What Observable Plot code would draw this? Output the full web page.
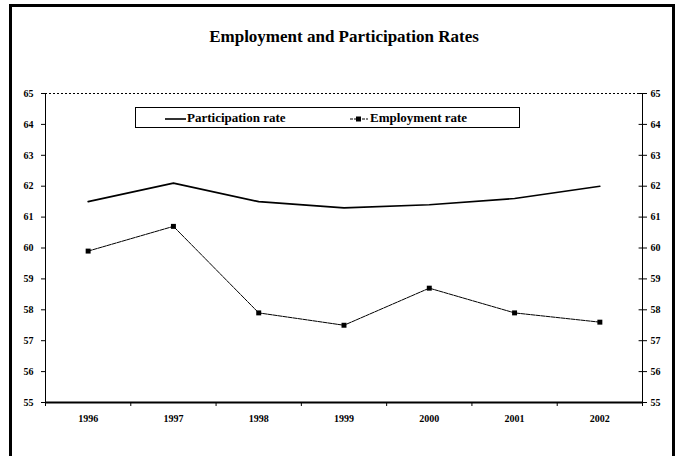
<!DOCTYPE html>
<html><head><meta charset="utf-8">
<script src="https://cdn.jsdelivr.net/npm/d3@7"></script>
<script src="https://cdn.jsdelivr.net/npm/@observablehq/plot@0.6"></script>
<style>
body{margin:0;background:#fff;}
#wrap{position:relative;width:684px;height:456px;overflow:hidden;background:#fff;}
#chart{position:absolute;left:0;top:0;}
#frame{position:absolute;left:9px;top:4px;width:660px;height:460px;border:3px solid #000;pointer-events:none;}
#title{position:absolute;left:0;top:27px;width:688px;text-align:center;font-weight:bold;font-size:17px;font-family:"Liberation Serif","Times New Roman","DejaVu Serif",serif;color:#000;}
#legend{position:absolute;left:135px;top:107px;width:383px;height:19px;border:1px solid #000;font-weight:bold;font-size:13px;font-family:"Liberation Serif","Times New Roman","DejaVu Serif",serif;color:#000;}
#legend .item{position:absolute;top:1px;line-height:17px;white-space:nowrap;}
#legend svg{vertical-align:middle;}
#chart svg text{font-family:"Liberation Serif","Times New Roman","DejaVu Serif",serif;}
</style>
</head><body>
<div id="wrap">
  <div id="chart"></div>
  <div id="title">Employment and Participation Rates</div>
  <div id="legend">
    <span class="item" style="left:29px"><svg width="22" height="8"><line x1="0" y1="4" x2="21" y2="4" stroke="#000" stroke-width="1.6"/></svg>Participation rate</span>
    <span class="item" style="left:214px"><svg width="20" height="8"><line x1="0" y1="4" x2="18" y2="4" stroke="#000" stroke-width="1" stroke-dasharray="3,1"/><rect x="6" y="1.5" width="5" height="5" fill="#000"/></svg>Employment rate</span>
  </div>
  <div id="frame"></div>
</div>
<script>
const years = [1996, 1997, 1998, 1999, 2000, 2001, 2002];
const participation = [61.5, 62.1, 61.5, 61.3, 61.4, 61.6, 62.0];
const employment = [59.9, 60.7, 57.9, 57.5, 58.7, 57.9, 57.6];
const yTicks = [55, 56, 57, 58, 59, 60, 61, 62, 63, 64, 65];

const bounds = years.map(y => y - 0.5).concat([years[years.length - 1] + 0.5]);
const rows = years.map((y, i) => ({year: y, participation: participation[i], employment: employment[i]}));
const xMin = bounds[0], xMax = bounds[bounds.length - 1];

const chart = Plot.plot({
  width: 684,
  height: 456,
  marginLeft: 45,
  marginRight: 42,
  marginTop: 93,
  marginBottom: 54,
  style: {fontFamily: "'Liberation Serif', 'Times New Roman', 'DejaVu Serif', serif", fontSize: "10px", fontWeight: "bold", background: "#fff", color: "#000"},
  x: {type: "linear", domain: [xMin, xMax]},
  y: {domain: [55, 65]},
  marks: [
    Plot.ruleY([65], {stroke: "#000", strokeWidth: 1, strokeDasharray: "2,2"}),
    Plot.ruleX([xMin], {stroke: "#000", strokeWidth: 1}),
    Plot.ruleX([xMax], {stroke: "#000", strokeWidth: 1}),
    Plot.ruleY(yTicks, {x1: () => xMax - 0.04, x2: () => xMax, stroke: "#000"}),
    Plot.axisY(yTicks, {anchor: "left", tickSize: 4, tickPadding: 8, label: null, stroke: "#000"}),
    Plot.axisY(yTicks, {anchor: "right", tickSize: 4, tickPadding: 4, label: null, stroke: "#000"}),
    Plot.ruleY([55], {stroke: "#000", strokeWidth: 2}),
    Plot.axisX(bounds, {anchor: "bottom", tickSize: 4, tickFormat: () => "", label: null, stroke: "#000"}),
    Plot.axisX(years, {anchor: "bottom", tickSize: 0, tickPadding: 12, tickFormat: d => String(d), label: null}),
    Plot.line(rows, {x: "year", y: "participation", stroke: "#000", strokeWidth: 1.6}),
    Plot.line(rows, {x: "year", y: "employment", stroke: "#000", strokeWidth: 1, strokeDasharray: "4,1"}),
    Plot.dot(rows, {x: "year", y: "employment", symbol: "square", r: 2.8, fill: "#000", stroke: "none"})
  ]
});
document.getElementById("chart").appendChild(chart);
</script>
</body></html>
